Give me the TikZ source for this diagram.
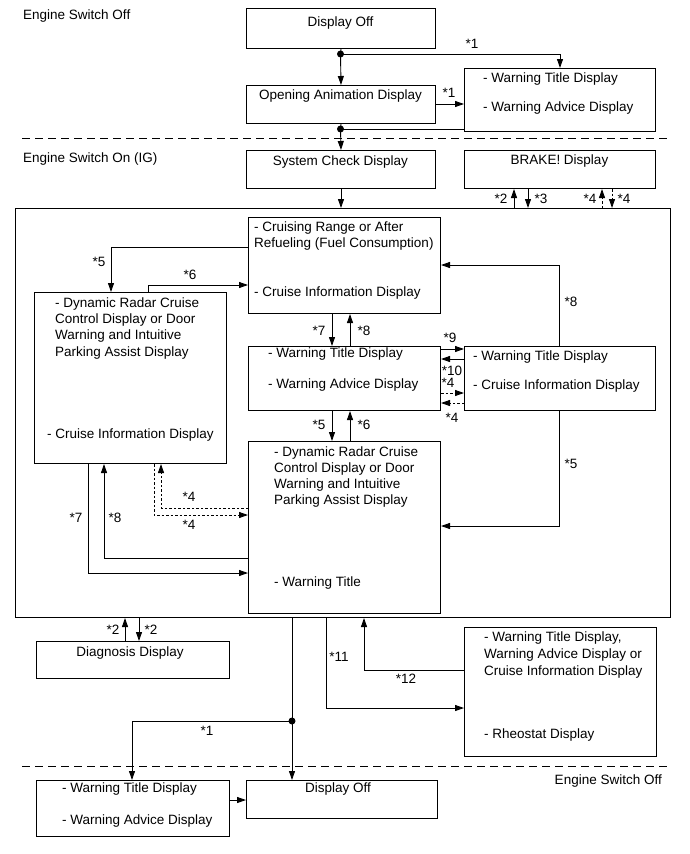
\documentclass[tikz,border=0pt]{standalone}
\usepackage{fontspec}
\setmainfont{Liberation Sans}
\usetikzlibrary{arrows.meta}
\newcommand{\dfs}{\fontsize{13.5}{16.3}\selectfont}
\tikzset{
  box/.style={draw=black, line width=1pt, rectangle, inner sep=0pt, anchor=north west},
  txt/.style={inner sep=0pt, font=\dfs, text height=9.7pt, text depth=0pt, anchor=west},
  ctxt/.style={txt, anchor=center},
  lbl/.style={txt, anchor=center},
  ln/.style={draw=black, line width=0.9pt},
  arr/.style={ln, -{Triangle[length=9pt,width=6pt]}},
  dsh/.style={dash pattern=on 2.5pt off 2pt},
  sep/.style={draw=black, line width=0.9pt, dash pattern=on 8pt off 5pt},
  dot/.style={circle, fill=black, inner sep=0pt, minimum size=7pt},
}
\begin{document}
\begin{tikzpicture}[x=1pt,y=-1pt]
\useasboundingbox (0,0) rectangle (689,854);

% separators
\coordinate (s1a) at (22,138); \coordinate (s1b) at (670,138);
\coordinate (s2a) at (22,766); \coordinate (s2b) at (670,766);
\draw[sep] (s1a) -- (s1b);
\draw[sep] (s2a) -- (s2b);

% headings
\node[txt] (h1) at (23,15) {Engine Switch Off};
\node[txt] (h2) at (23,158) {Engine Switch On (IG)};
\node[txt, anchor=east] (h3) at (662,780) {Engine Switch Off};

% boxes
\node[box, minimum width=189pt, minimum height=40pt] (doff1) at (246,8) {};
\node[box, minimum width=189pt, minimum height=38pt] (opening) at (246,85) {};
\node[box, minimum width=191pt, minimum height=63pt] (warn1) at (464,68) {};
\node[box, minimum width=189pt, minimum height=38pt] (syscheck) at (246,150) {};
\node[box, minimum width=191pt, minimum height=38pt] (brake) at (464,150) {};
\node[box, minimum width=655pt, minimum height=409pt] (big) at (15,208) {};
\node[box, minimum width=192pt, minimum height=96pt] (cruising) at (248,217) {};
\node[box, minimum width=192pt, minimum height=171pt] (leftbox) at (34,292) {};
\node[box, minimum width=192pt, minimum height=64pt] (midwarn) at (248,346) {};
\node[box, minimum width=191pt, minimum height=64pt] (rightbox) at (464,346) {};
\node[box, minimum width=192pt, minimum height=172pt] (bottombox) at (248,441) {};
\node[box, minimum width=193pt, minimum height=37pt] (diag) at (36,641) {};
\node[box, minimum width=192pt, minimum height=129pt] (rheo) at (464,627) {};
\node[box, minimum width=193pt, minimum height=56pt] (bl) at (36,780) {};
\node[box, minimum width=191pt, minimum height=38pt] (doff2) at (246,780) {};

% texts
\node[ctxt] (t1) at (340.5,22) {Display Off};
\node[ctxt] (t2) at (340.5,95) {Opening Animation Display};
\node[txt] (t3) at (483,78) {- Warning Title Display};
\node[txt] (t4) at (483,107) {- Warning Advice Display};
\node[ctxt] (t5) at (340.5,161) {System Check Display};
\node[ctxt] (t6) at (559.5,160) {BRAKE! Display};
\node[txt] (t7) at (254,227) {- Cruising Range or After};
\node[txt] (t8) at (254,243) {Refueling (Fuel Consumption)};
\node[txt] (t9) at (254,292) {- Cruise Information Display};
\node[txt] (t10) at (55,303) {- Dynamic Radar Cruise};
\node[txt] (t11) at (55,319) {Control Display or Door};
\node[txt] (t12) at (55,335) {Warning and Intuitive};
\node[txt] (t13) at (55,352) {Parking Assist Display};
\node[txt] (t14) at (47,434) {- Cruise Information Display};
\node[txt] (t15) at (268,353) {- Warning Title Display};
\node[txt] (t16) at (268,384) {- Warning Advice Display};
\node[txt] (t17) at (473,356) {- Warning Title Display};
\node[txt] (t18) at (473,385) {- Cruise Information Display};
\node[txt] (t19) at (274,452) {- Dynamic Radar Cruise};
\node[txt] (t20) at (274,468) {Control Display or Door};
\node[txt] (t21) at (274,484) {Warning and Intuitive};
\node[txt] (t22) at (274,500) {Parking Assist Display};
\node[txt] (t23) at (274,582) {- Warning Title};
\node[ctxt] (t24) at (130,652) {Diagnosis Display};
\node[txt] (t25) at (484,637) {- Warning Title Display,};
\node[txt] (t26) at (484,654) {Warning Advice Display or};
\node[txt] (t27) at (484,671) {Cruise Information Display};
\node[txt] (t28) at (484,734) {- Rheostat Display};
\node[txt] (t29) at (62,788) {- Warning Title Display};
\node[txt] (t30) at (62,820) {- Warning Advice Display};
\node[ctxt] (t31) at (338,788) {Display Off};

% dots
\node[dot] (dot1) at (340.5,54) {};
\node[dot] (dot2) at (340.5,129) {};
\node[dot] (dot3) at (292,721) {};

% top connectors
\draw[ln] (doff1.south) -- (dot1.center);
\draw[arr] (dot1.center) -- (opening.north);
\draw[arr] (dot1.center) -| (560,0 |- warn1.north);
\draw[arr] (opening.east |- 0,104) -- (warn1.west |- 0,104);
\draw[ln] (opening.south) -- (dot2.center);
\draw[ln] (warn1.west |- 0,129) -- (dot2.center);
\draw[arr] (dot2.center) -- (syscheck.north);
\draw[arr] (syscheck.south) -- (big.north -| syscheck.south);
\draw[arr] (514,0 |- big.north) -- (514,0 |- brake.south);
\draw[arr] (528,0 |- brake.south) -- (528,0 |- big.north);
\draw[arr,dsh] (602,0 |- big.north) -- (602,0 |- brake.south);
\draw[arr,dsh] (612,0 |- brake.south) -- (612,0 |- big.north);

% inside big box
\draw[arr] (cruising.west |- 0,247) -| (111,0 |- leftbox.north);
\draw[arr] (148,0 |- leftbox.north) |- (cruising.west |- 0,285);
\draw[arr] (332,0 |- cruising.south) -- (332,0 |- midwarn.north);
\draw[arr] (350,0 |- midwarn.north) -- (350,0 |- cruising.south);
\draw[arr] (559,0 |- rightbox.north) |- (cruising.east |- 0,265);
\draw[arr] (midwarn.east |- 0,349) -- (rightbox.west |- 0,349);
\draw[arr] (rightbox.west |- 0,359) -- (midwarn.east |- 0,359);
\draw[arr,dsh] (midwarn.east |- 0,393) -- (rightbox.west |- 0,393);
\draw[arr,dsh] (rightbox.west |- 0,403) -- (midwarn.east |- 0,403);
\draw[arr] (332,0 |- midwarn.south) -- (332,0 |- bottombox.north);
\draw[arr] (350,0 |- bottombox.north) -- (350,0 |- midwarn.south);
\draw[arr] (559,0 |- rightbox.south) |- (bottombox.east |- 0,526);
\draw[arr] (bottombox.west |- 0,558) -| (104,0 |- leftbox.south);
\draw[arr] (88,0 |- leftbox.south) |- (bottombox.west |- 0,573);
\draw[arr,dsh] (bottombox.west |- 0,508) -| (161,0 |- leftbox.south);
\draw[arr,dsh] (154,0 |- leftbox.south) |- (bottombox.west |- 0,515);

% below big box
\draw[arr] (125,0 |- diag.north) -- (125,0 |- big.south);
\draw[arr] (139,0 |- big.south) -- (139,0 |- diag.north);
\draw[ln] (292,0 |- big.south) -- (dot3.center);
\draw[arr] (dot3.center) -- (292,0 |- doff2.north);
\draw[arr] (dot3.center) -| (132,0 |- bl.north);
\draw[arr] (326,0 |- big.south) |- (rheo.west |- 0,708);
\draw[arr] (rheo.west |- 0,670) -| (364,0 |- big.south);
\draw[arr] (bl.east |- 0,800) -- (doff2.west |- 0,800);

% labels
\node[lbl] (l1) at (472,44) {*1};
\node[lbl] (l2) at (449,93) {*1};
\node[lbl] (l3) at (501,199) {*2};
\node[lbl] (l4) at (541,199) {*3};
\node[lbl] (l5) at (590,199) {*4};
\node[lbl] (l6) at (624,199) {*4};
\node[lbl] (l7) at (99,262) {*5};
\node[lbl] (l8) at (190,275) {*6};
\node[lbl] (l9) at (319,331) {*7};
\node[lbl] (l10) at (364,331) {*8};
\node[lbl] (l11) at (571,302) {*8};
\node[lbl] (l12) at (450,338) {*9};
\node[lbl] (l13) at (452,371) {*10};
\node[lbl] (l14) at (448,383) {*4};
\node[lbl] (l15) at (452,418) {*4};
\node[lbl] (l16) at (319,425) {*5};
\node[lbl] (l17) at (364,425) {*6};
\node[lbl] (l18) at (571,464) {*5};
\node[lbl] (l19) at (189,497) {*4};
\node[lbl] (l20) at (189,525) {*4};
\node[lbl] (l21) at (76,518) {*7};
\node[lbl] (l22) at (115,518) {*8};
\node[lbl] (l23) at (113,630) {*2};
\node[lbl] (l24) at (151,630) {*2};
\node[lbl] (l25) at (207,731) {*1};
\node[lbl] (l26) at (339,657) {*11};
\node[lbl] (l27) at (406,679) {*12};
\end{tikzpicture}
\end{document}
